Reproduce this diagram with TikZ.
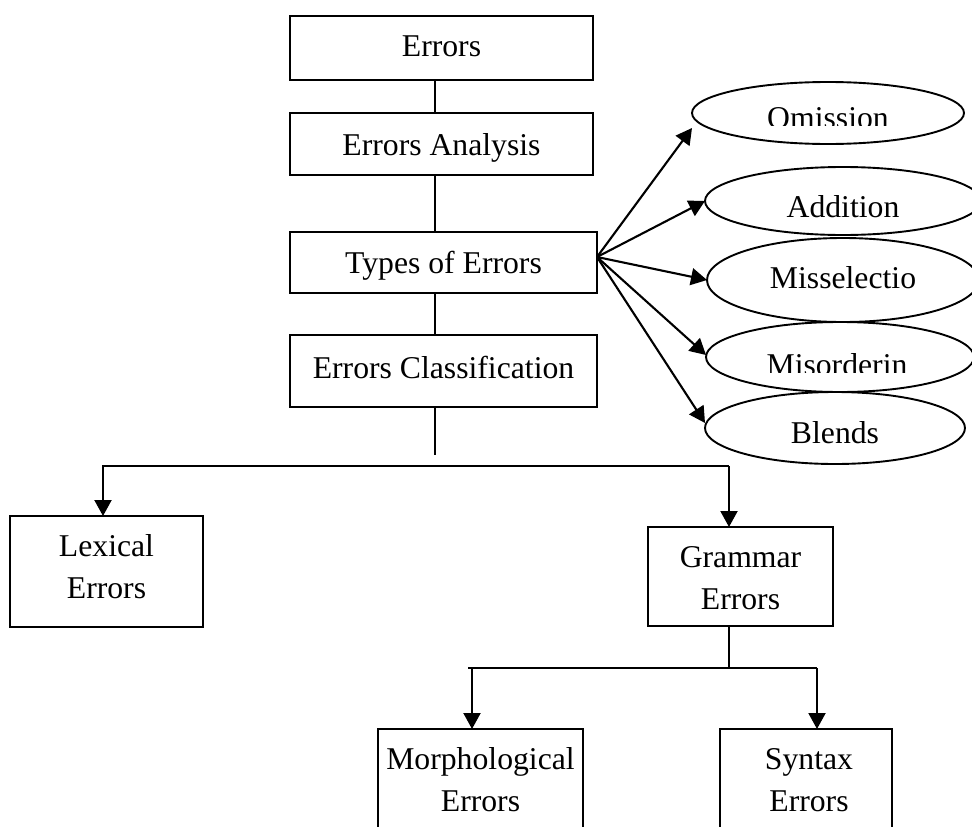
\documentclass[tikz,border=0pt]{standalone}
\usepackage{fontspec}
\setmainfont{Liberation Serif}
\usetikzlibrary{arrows.meta,shapes.geometric}
\begin{document}
\begin{tikzpicture}[x=1pt,y=-1pt,
  box/.style={draw, line width=2pt, rectangle, inner sep=0pt, outer sep=0pt},
  ell/.style={draw, line width=1.9pt, ellipse, inner sep=0pt, outer sep=0pt},
  lbl/.style={anchor=base, inner sep=0pt, font=\fontsize{31.7}{38}\selectfont},
  con/.style={line width=2.1pt},
  arr/.style={line width=2.1pt, -{Triangle[length=16pt,width=17pt]}},
]
\useasboundingbox (0,0) rectangle (972,827);
\clip (0,0) rectangle (972,827);
\fill[white] (0,0) rectangle (972,827);

% main column boxes
\node[box, minimum width=303pt, minimum height=64pt] (e1) at (441.5,48) {};
\node[lbl] (t1) at (441.5,56) {Errors};
\node[box, minimum width=303pt, minimum height=62pt] (e2) at (441.5,144) {};
\node[lbl] (t2) at (441.5,155) {Errors Analysis};
\node[box, minimum width=307pt, minimum height=61pt] (e3) at (443.5,262.5) {};
\node[lbl] (t3) at (443.5,273) {Types of Errors};
\node[box, minimum width=307pt, minimum height=72pt] (e4) at (443.5,371) {};
\node[lbl] (t4) at (443.5,378) {Errors Classification};

% second level boxes
\node[box, minimum width=193pt, minimum height=111pt] (lex) at (106.5,571.5) {};
\node[lbl] (tlex1) at (106.5,556) {Lexical};
\node[lbl] (tlex2) at (106.5,598) {Errors};
\node[box, minimum width=185pt, minimum height=99pt] (gram) at (740.5,576.5) {};
\node[lbl] (tgr1) at (740.5,567) {Grammar};
\node[lbl] (tgr2) at (740.5,609) {Errors};

% third level boxes (cut by the lower edge)
\node[box, minimum width=205pt, minimum height=200pt] (morph) at (480.5,829) {};
\node[lbl] (tmo1) at (480.5,769) {Morphological};
\node[lbl] (tmo2) at (480.5,811) {Errors};
\node[box, minimum width=172pt, minimum height=200pt] (syn) at (806,829) {};
\node[lbl] (tsy1) at (809,769) {Syntax};
\node[lbl] (tsy2) at (809,811) {Errors};

% ellipses
\node[ell, minimum width=272pt, minimum height=62pt] (om) at (828,113) {};
\begin{scope}
  \clip (690,90) rectangle (972,125.5);
  \node[lbl] (tom) at (828,128) {Omission};
\end{scope}
\node[ell, minimum width=276pt, minimum height=68pt] (ad) at (843,201) {};
\node[lbl] (tad) at (843,217) {Addition};
\node[ell, minimum width=272pt, minimum height=84pt] (ms) at (843,280) {};
\node[lbl] (tms) at (843,288) {Misselectio};
\node[ell, minimum width=268pt, minimum height=70pt] (mo) at (840,357) {};
\begin{scope}
  \clip (700,330) rectangle (972,372.5);
  \node[lbl] (tmo) at (837,375) {Misorderin};
\end{scope}
\node[ell, minimum width=260pt, minimum height=72pt] (bl) at (835,428) {};
\node[lbl] (tbl) at (835,443) {Blends};

% connectors of the main column
\coordinate (spine) at (435,0);
\draw[con] (e1.south -| spine) -- (e2.north -| spine);
\draw[con] (e2.south -| spine) -- (e3.north -| spine);
\draw[con] (e3.south -| spine) -- (e4.north -| spine);
\coordinate (cend) at (435,455);
\draw[con] (e4.south -| spine) -- (cend);

% branch to lexical / grammar
\coordinate (hl) at (103,466);
\coordinate (hr) at (729,466);
\draw[arr] (hr) -- (hl) -- (hl |- lex.north);
\draw[arr] (hr) -- (hr |- gram.north);

% branch below grammar
\coordinate (g2) at (729,668);
\draw[con] (g2 |- gram.south) -- (g2);
\coordinate (gl) at (468,668);
\coordinate (gla) at (472,668);
\coordinate (gr) at (817,668);
\draw[con] (gl) -- (gr);
\draw[arr] (gla) -- (gla |- morph.north);
\draw[arr] (gr) -- (gr |- syn.north);

% fan of arrows to the ellipses
\coordinate (src) at ([yshift=5.5pt]e3.east);
\draw[arr] (src) -- ([yshift=-15pt]om.west);
\draw[arr] (src) -- (ad.west);
\draw[arr] (src) -- (ms.west);
\draw[arr] (src) -- ([yshift=2pt]mo.west);
\draw[arr] (src) -- ([yshift=5pt]bl.west);
\end{tikzpicture}
\end{document}
